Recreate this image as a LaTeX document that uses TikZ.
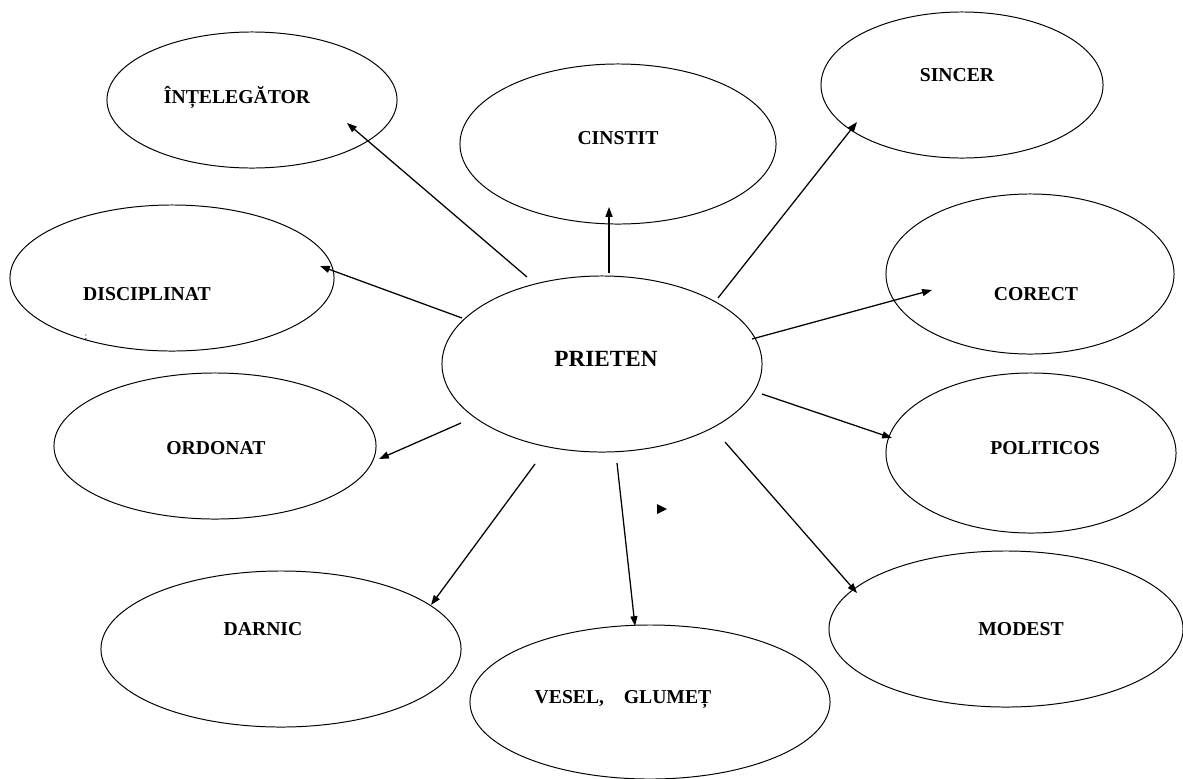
\documentclass[tikz,border=0pt]{standalone}
\usepackage{fontspec}
\setmainfont{Liberation Serif}
\usetikzlibrary{arrows.meta, shapes.geometric}

\begin{document}
\begin{tikzpicture}[x=0.025cm, y=-0.025cm,
    bubble/.style={draw, ellipse, inner sep=0pt, line width=0.7pt},
    word/.style={font=\fontsize{14}{16}\selectfont\bfseries},
    link/.style={-{Triangle[length=7pt, width=5pt]}, line width=0.9pt}]
    \useasboundingbox (0,0) rectangle (1183,778);

    % Central idea
    \node (prieten) [bubble, minimum width=8cm, minimum height=4.4cm] at (602,364) {};
    \node (prieten-t) [word, font=\fontsize{16.5}{18}\selectfont\bfseries] at (606,359) {PRIETEN};

    % Qualities, top row
    \node (inteleg) [bubble, minimum width=7.25cm, minimum height=3.4cm] at (252,100) {};
    \node (inteleg-t) [word] at (237,97) {ÎNȚELEGĂTOR};
    \node (cinstit) [bubble, minimum width=7.9cm, minimum height=4cm] at (618,144) {};
    \node (cinstit-t) [word] at (618,138) {CINSTIT};
    \node (sincer) [bubble, minimum width=7.05cm, minimum height=3.65cm] at (962,85) {};
    \node (sincer-t) [word] at (957,75) {SINCER};

    % Qualities, left side
    \node (discipl) [bubble, minimum width=8.1cm, minimum height=3.65cm] at (172,278) {};
    \node (discipl-t) [word] at (147,294) {DISCIPLINAT};
    \node (ordonat) [bubble, minimum width=8.05cm, minimum height=3.65cm] at (215,446) {};
    \node (ordonat-t) [word] at (216,448) {ORDONAT};
    \node (darnic) [bubble, minimum width=9cm, minimum height=3.9cm] at (281,649) {};
    \node (darnic-t) [word] at (263,629) {DARNIC};

    % Qualities, right side
    \node (corect) [bubble, minimum width=7.2cm, minimum height=4cm] at (1030,274) {};
    \node (corect-t) [word] at (1036,294) {CORECT};
    \node (politicos) [bubble, minimum width=7.25cm, minimum height=4cm] at (1031,453) {};
    \node (politicos-t) [word] at (1045,448) {POLITICOS};
    \node (modest) [bubble, minimum width=8.85cm, minimum height=3.9cm] at (1006,629) {};
    \node (modest-t) [word] at (1021,629) {MODEST};

    % Bottom
    \node (vesel) [bubble, minimum width=9cm, minimum height=3.85cm] at (650,702) {};
    \node (vesel-t) [word] at (623,699) {VESEL,\quad GLUMEȚ};

    % Arrow ends
    \coordinate (inteleg-a) at (527,277);  \coordinate (inteleg-b) at (347,123);
    \coordinate (cinstit-a) at (609,273);  \coordinate (cinstit-b) at (609,207);
    \coordinate (sincer-a) at (718,298);   \coordinate (sincer-b) at (857,122);
    \coordinate (discipl-a) at (462,318);  \coordinate (discipl-b) at (320,266);
    \coordinate (corect-a) at (752,339);   \coordinate (corect-b) at (932,290);
    \coordinate (ordonat-a) at (461,423);  \coordinate (ordonat-b) at (379,459);
    \coordinate (politicos-a) at (762,394); \coordinate (politicos-b) at (892,438);
    \coordinate (darnic-a) at (535,464);   \coordinate (darnic-b) at (431,605);
    \coordinate (vesel-a) at (617,463);    \coordinate (vesel-b) at (635,626);
    \coordinate (modest-a) at (725,442);   \coordinate (modest-b) at (857,593);

    % Arrows
    \draw[link] (inteleg-a) -- (inteleg-b);
    \draw[link] (cinstit-a) -- (cinstit-b);
    \draw[link] (sincer-a) -- (sincer-b);
    \draw[link] (discipl-a) -- (discipl-b);
    \draw[link] (corect-a) -- (corect-b);
    \draw[link] (ordonat-a) -- (ordonat-b);
    \draw[link] (politicos-a) -- (politicos-b);
    \draw[link] (darnic-a) -- (darnic-b);
    \draw[link] (vesel-a) -- (vesel-b);
    \draw[link] (modest-a) -- (modest-b);

    % Stray marks
    \fill (657,504) -- (667,509) -- (657,514) -- cycle;
    \node (stray) [font=\fontsize{7}{8}\selectfont, text=blue!50!black] at (86,338) {;};
\end{tikzpicture}
\end{document}
